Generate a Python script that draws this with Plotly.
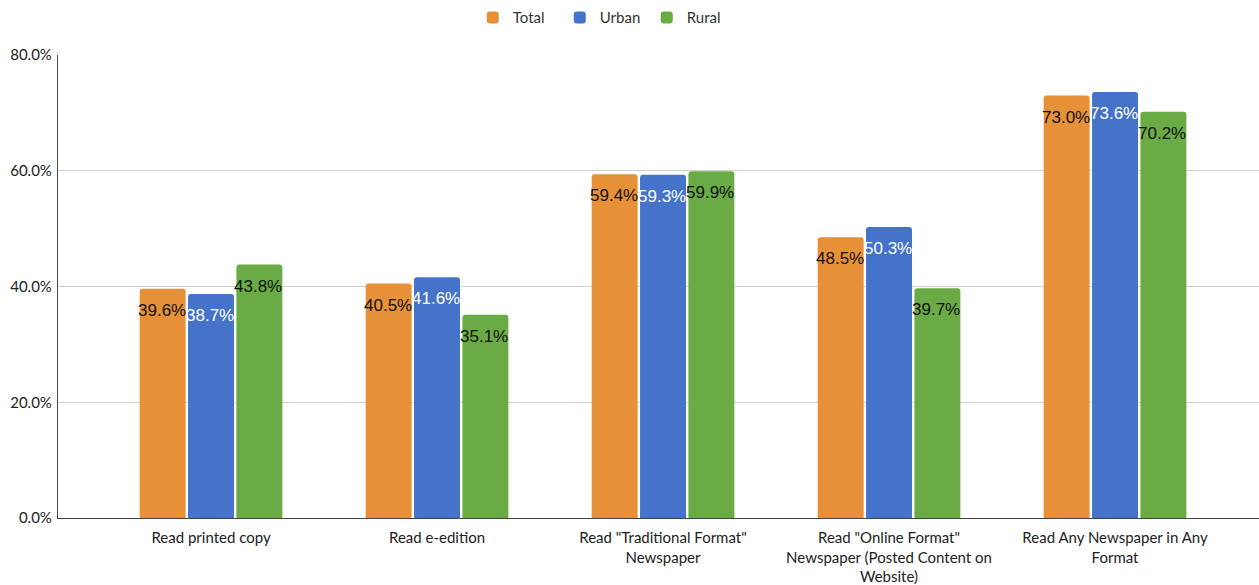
import plotly.graph_objects as go

categories = [
    "Read printed copy",
    "Read e-edition",
    'Read "Traditional Format"<br>Newspaper',
    'Read "Online Format"<br>Newspaper (Posted Content on<br>Website)',
    "Read Any Newspaper in Any<br>Format",
]
series_names = ["Total", "Urban", "Rural"]
total = [39.6, 40.5, 59.4, 48.5, 73.0]
urban = [38.7, 41.6, 59.3, 50.3, 73.6]
rural = [43.8, 35.1, 59.9, 39.7, 70.2]
y_ticks = [0, 20, 40, 60, 80]

colors = ["#E69138", "#4473C9", "#6AAB45"]
label_colors = ["#111111", "#FFFFFF", "#111111"]
values = [total, urban, rural]

fig = go.Figure()
for name, vals, col in zip(series_names, values, colors):
    fig.add_trace(go.Bar(
        x=categories, y=vals, name=name, marker_color=col,
        marker_line_width=0,
    ))

slot_px = 48.4
for j, (vals, lc) in enumerate(zip(values, label_colors)):
    for c, v in zip(categories, vals):
        fig.add_annotation(
            x=c, y=v, xref="x", yref="y", text=f"{v:.1f}%",
            showarrow=False, yanchor="top", xanchor="center",
            xshift=(j - 1) * slot_px - 1, yshift=-10,
            font=dict(family="Liberation Sans, Arial", size=17, color=lc),
        )

fig.update_layout(
    width=1259, height=585,
    margin=dict(l=58, r=0, t=55, b=65),
    plot_bgcolor="white", paper_bgcolor="white",
    barmode="group", bargap=0.358, bargroupgap=0.05,
    barcornerradius=3,
    font=dict(family="Lato, Open Sans, sans-serif", size=15, color="#222222"),
    legend=dict(
        orientation="h", x=0.454, xanchor="center", yref="container",
        y=0.998, yanchor="top", font=dict(size=15, color="#333333"),
        itemwidth=30, traceorder="normal", entrywidth=42,
    ),
    showlegend=True,
)
fig.update_xaxes(
    range=[-0.677, 4.637], showline=True, linecolor="#444444", linewidth=1.2,
    ticks="", tickfont=dict(size=15, color="#222222"), showgrid=False,
    ticklabelstandoff=6,
)
fig.update_yaxes(
    range=[0, 80], tickvals=y_ticks, ticktext=[f"{t:.1f}%" for t in y_ticks],
    showgrid=True, gridcolor="#D0D0D0", gridwidth=1,
    showline=True, linecolor="#444444", linewidth=1.2,
    zeroline=False, ticks="", tickfont=dict(size=15, color="#222222"),
    ticklabelstandoff=2,
)

fig.write_html("out.html")
